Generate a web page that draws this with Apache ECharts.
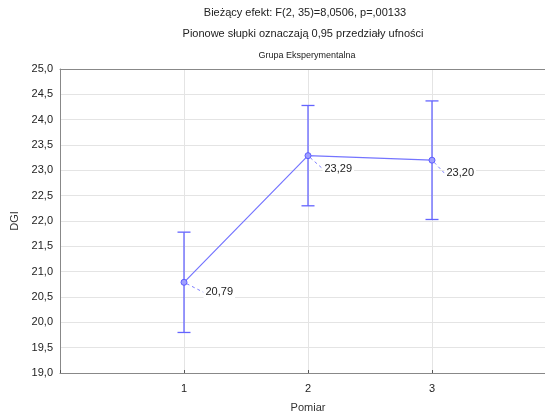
<!DOCTYPE html>
<html>
<head>
<meta charset="utf-8">
<script src="https://cdn.jsdelivr.net/npm/echarts@6/dist/echarts.min.js"></script>
<style>
  html, body { margin: 0; padding: 0; background: #fff; overflow: hidden; width: 545px; height: 418px; }
  #chart { width: 600px; height: 418px; }
</style>
</head>
<body>
<div id="chart"></div>
<script>
// Measurement occasions and mean DGI with 95% confidence limits
const pomiary = [1, 2, 3];
const srednie = [20.79, 23.29, 23.20];
const gorneGranice = [21.78, 24.28, 24.37];
const dolneGranice = [19.80, 22.30, 22.03];
const yTicks = { min: 19, max: 25, step: 0.5 };
const xRange = { min: 0, max: 4 };

const fmt = (v, d) => v.toFixed(d).replace('.', ',');
const lineColor = '#7474ff';
const barColor = '#6464ff';
const FONT = '"Liberation Sans", Arial, sans-serif';

const chart = echarts.init(document.getElementById('chart'), null, { renderer: 'canvas' });

chart.setOption({
  animation: false,
  textStyle: { fontFamily: FONT },
  title: [
    { text: 'Bieżący efekt: F(2, 35)=8,0506, p=,00133', left: 300, top: 2, textAlign: 'center',
      textStyle: { fontSize: 11, fontWeight: 'normal', color: '#222', fontFamily: FONT } },
    { text: 'Pionowe słupki oznaczają 0,95 przedziały ufności', left: 298, top: 23, textAlign: 'center',
      textStyle: { fontSize: 11, fontWeight: 'normal', color: '#222', fontFamily: FONT } },
    { text: 'Grupa Eksperymentalna', left: 302, top: 46, textAlign: 'center',
      textStyle: { fontSize: 9, fontWeight: 'normal', color: '#222', fontFamily: FONT } }
  ],
  // plot frame runs past the visible right edge of the page
  grid: { left: 60, top: 69, bottom: 45, width: 496, containLabel: false, outerBoundsMode: 'none' },
  xAxis: [
    {
      type: 'value', min: xRange.min, max: xRange.max, interval: 1,
      name: 'Pomiar', nameLocation: 'middle', nameGap: 29,
      nameTextStyle: { fontSize: 11, color: '#333', fontFamily: FONT },
      axisLine: { show: true, onZero: false, lineStyle: { color: '#888' } },
      axisTick: { show: true, inside: true, length: 3, lineStyle: { color: '#555' } },
      axisLabel: {
        fontSize: 11, color: '#222', margin: 10,
        formatter: v => (pomiary.indexOf(v) >= 0 ? String(v) : '')
      },
      splitLine: { show: true, showMaxLine: false, lineStyle: { color: '#e4e4e4' } }
    },
    {
      // top frame line of the plot area
      type: 'value', position: 'top', min: xRange.min, max: xRange.max,
      axisLine: { show: true, onZero: false, lineStyle: { color: '#888' } },
      axisTick: { show: false }, axisLabel: { show: false }, splitLine: { show: false }
    }
  ],
  yAxis: {
    type: 'value', min: yTicks.min, max: yTicks.max, interval: yTicks.step,
    name: 'DGI', nameLocation: 'middle', nameGap: 38, nameRotate: 90,
    nameTextStyle: { fontSize: 11, color: '#333', fontFamily: FONT },
    axisLine: { show: true, lineStyle: { color: '#888' } },
    axisTick: { show: false },
    axisLabel: { fontSize: 11, color: '#222', margin: 7, formatter: v => fmt(v, 1) },
    splitLine: { show: true, lineStyle: { color: '#e4e4e4' } }
  },
  series: [
    {
      type: 'custom',
      name: 'przedziały',
      data: pomiary.map((p, i) => [p, dolneGranice[i], gorneGranice[i]]),
      encode: { x: 0, y: [1, 2] },
      z: 3,
      renderItem: function (params, api) {
        const x = api.value(0);
        const lo = api.coord([x, api.value(1)]);
        const hi = api.coord([x, api.value(2)]);
        const hw = 6.5;
        const style = { stroke: barColor, lineWidth: 1.3 };
        return {
          type: 'group',
          children: [
            { type: 'line', shape: { x1: hi[0], y1: hi[1], x2: lo[0], y2: lo[1] }, style },
            { type: 'line', shape: { x1: hi[0] - hw, y1: hi[1], x2: hi[0] + hw, y2: hi[1] }, style },
            { type: 'line', shape: { x1: lo[0] - hw, y1: lo[1], x2: lo[0] + hw, y2: lo[1] }, style }
          ]
        };
      }
    },
    {
      type: 'line',
      name: 'średnie',
      data: pomiary.map((p, i) => [p, srednie[i]]),
      z: 4,
      lineStyle: { color: lineColor, width: 1.2 },
      itemStyle: { color: '#a0a0ff', borderColor: '#5c5cff', borderWidth: 1 },
      symbol: 'circle', symbolSize: 6,
      label: {
        show: true, position: 'right', distance: 2,
        formatter: p => fmt(p.value[1], 2),
        fontSize: 11, color: '#222', fontFamily: FONT,
        backgroundColor: '#fff', padding: [1, 2]
      },
      labelLine: { show: true, lineStyle: { color: '#7d7dff', type: [3, 3], width: 1 } },
      labelLayout: function (p) {
        const offs = [[14, 10], [9, 13], [7, 13]];
        const o = offs[p.dataIndex] || [10, 12];
        return { dx: o[0], dy: o[1] };
      }
    }
  ]
});
</script>
</body>
</html>
